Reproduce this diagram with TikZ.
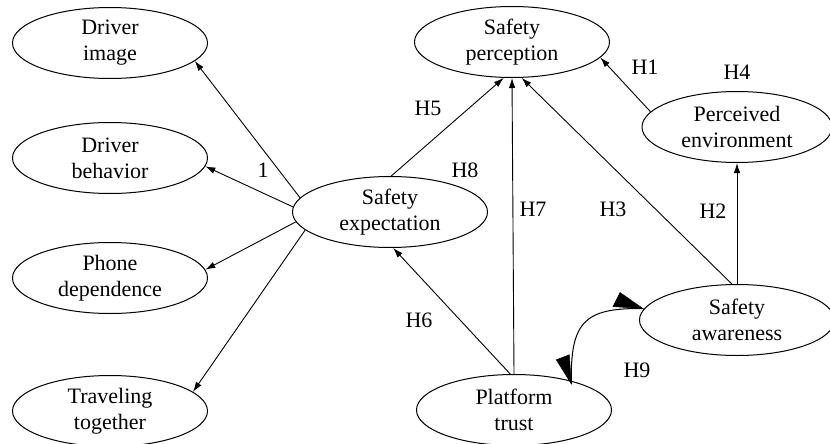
\documentclass[tikz,border=0pt]{standalone}
\usepackage{fontspec}
\setmainfont{Liberation Serif}
\usetikzlibrary{shapes.geometric,arrows.meta}
\tikzset{
  ell/.style={draw, ellipse, line width=1pt, minimum width=195pt, minimum height=71pt, inner sep=0pt, align=center, font=\fontsize{22}{26}\selectfont},
  conn/.style={line width=0.9pt, -{Latex[length=10pt,width=6.5pt]}},
  lbl/.style={font=\fontsize{22}{26}\selectfont, inner sep=0pt},
  h9/.style={line width=1pt},
  h9head/.style={fill=black, draw=black, line width=0.5pt, line join=miter}
}
\begin{document}
\begin{tikzpicture}[x=1pt,y=-1pt]
\useasboundingbox (0,0) rectangle (830,444);
\node[ell] (di) at (110,43) {Driver\\image};
\node[ell] (db) at (110,158) {Driver\\behavior};
\node[ell] (pd) at (110,278) {Phone\\dependence};
\node[ell] (tt) at (110,411) {Traveling\\together};
\node[ell] (se) at (390,212) {Safety\\expectation};
\node[ell] (sp) at (512,42) {Safety\\perception};
\node[ell, minimum width=190pt] (pe) at (737,127) {Perceived\\environment};
\node[ell] (sa) at (737,320) {Safety\\awareness};
\node[ell] (pt) at (514,410) {Platform\\trust};

\draw[conn] (se.171) -- (di.-12);
\draw[conn] (se.177) -- (db.-5);
\draw[conn] (se.186) -- (pd.5);
\draw[conn] (se.192) -- (tt.13);
\draw[conn] (se.88) -- (sp.-103);
\draw[conn] (pt.north) -- (sp.south);
\draw[conn] (sa.98) -- (sp.-75);
\draw[conn] (sa.north) -- (pe.south);
\draw[conn] (pe.170) -- (sp.-10);
\draw[conn] (pt.96) -- (se.-85);

\coordinate (h9a) at ([yshift=-3pt]pt.27);
\coordinate (h9b) at ([xshift=-1pt]sa.173);
\draw[h9] (h9a) .. controls +(-1,-61) and +(-60,-1) .. (h9b);
\filldraw[h9head] (h9a) -- ++(-2,-29) -- ++(-13,5) -- cycle;
\filldraw[h9head] (h9b) -- ++(-30,-2) -- ++(7,-14) -- cycle;

\node[lbl] (l1) at (263,170) {1};
\node[lbl] (l5) at (428,108) {H5};
\node[lbl] (l8) at (465,170) {H8};
\node[lbl] (l7) at (533,209) {H7};
\node[lbl] (l3) at (613,209) {H3};
\node[lbl] (l2) at (713,211) {H2};
\node[lbl] (lh1) at (645,67) {H1};
\node[lbl] (l4) at (737,72) {H4};
\node[lbl] (l6) at (419,320) {H6};
\node[lbl] (l9) at (637,370) {H9};
\end{tikzpicture}
\end{document}
